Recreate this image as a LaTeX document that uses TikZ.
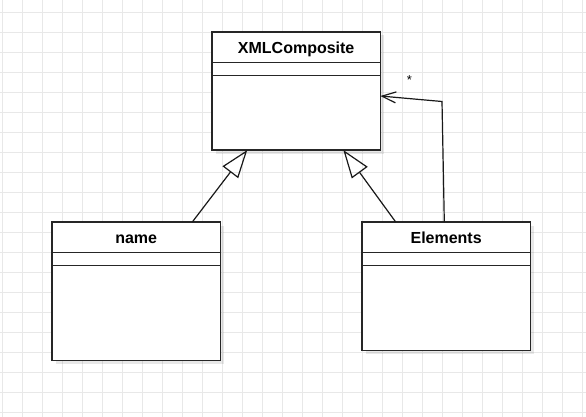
\documentclass[tikz,border=0pt]{standalone}
\usepackage{fontspec}
\setmainfont{Liberation Sans}
\usetikzlibrary{arrows.meta,shadows}
\tikzset{
  gridline/.style={draw=black!9, line width=0.8pt},
  umlbox/.style={draw=black!85, line width=1.3pt, fill=white, rectangle, inner sep=0pt, outer sep=0pt,
    minimum width=168.3pt, anchor=north west,
    drop shadow={shadow xshift=3.5pt, shadow yshift=-3.5pt, opacity=0.09, fill=black}},
  umltitle/.style={font=\bfseries\fontsize{16}{18}\selectfont, inner sep=0pt, anchor=base},
  sepline/.style={draw=black!85, line width=1.3pt},
  inherit/.style={draw=black!90, line width=1.2pt, -{Triangle[open, length=28pt, width=19.5pt, line width=1.2pt]}},
  assoc/.style={draw=black!90, line width=1.2pt, -{Straight Barb[length=14pt, width=11pt, line width=1.2pt]}},
  starlabel/.style={font=\fontsize{13}{15}\selectfont, inner sep=0pt}
}
\begin{document}
\begin{tikzpicture}[x=1pt, y=-1pt]
  \useasboundingbox (0,0) rectangle (586,417);
  \fill[white] (0,0) rectangle (586,417);
  \foreach \x in {2,22,...,582} \draw[gridline] (\x,0) -- (\x,417);
  \foreach \y in {12,32,...,412} \draw[gridline] (0,\y) -- (586,\y);

  % classes
  \node[umlbox, minimum height=118pt] (xml) at (212,32) {};
  \node[umlbox, minimum height=138.3pt] (name) at (52,222) {};
  \node[umlbox, minimum height=128.3pt] (elem) at (362,222) {};

  \foreach \b in {xml,name,elem} {
    \draw[sepline] ([yshift=-30.7pt]\b.north west) -- ([yshift=-30.7pt]\b.north east);
    \draw[sepline] ([yshift=-43.3pt]\b.north west) -- ([yshift=-43.3pt]\b.north east);
  }

  \node[umltitle] (xmlt) at ([yshift=-21.3pt]xml.north) {XMLComposite};
  \node[umltitle] (namet) at ([yshift=-21.3pt]name.north) {name};
  \node[umltitle] (elemt) at ([yshift=-21.3pt]elem.north) {Elements};

  % inheritance
  \draw[inherit] ([xshift=140.3pt]name.north west) -- ([xshift=35.3pt]xml.south west);
  \draw[inherit] ([xshift=33.7pt]elem.north west) -- ([xshift=131.3pt]xml.south west);

  % association
  \coordinate (bend) at (442,101.5);
  \draw[assoc] ([xshift=82.3pt]elem.north west) -- (bend) -- ([yshift=-64pt]xml.north east);
  \node[starlabel] (star) at (409.3,80.5) {*};
\end{tikzpicture}
\end{document}
